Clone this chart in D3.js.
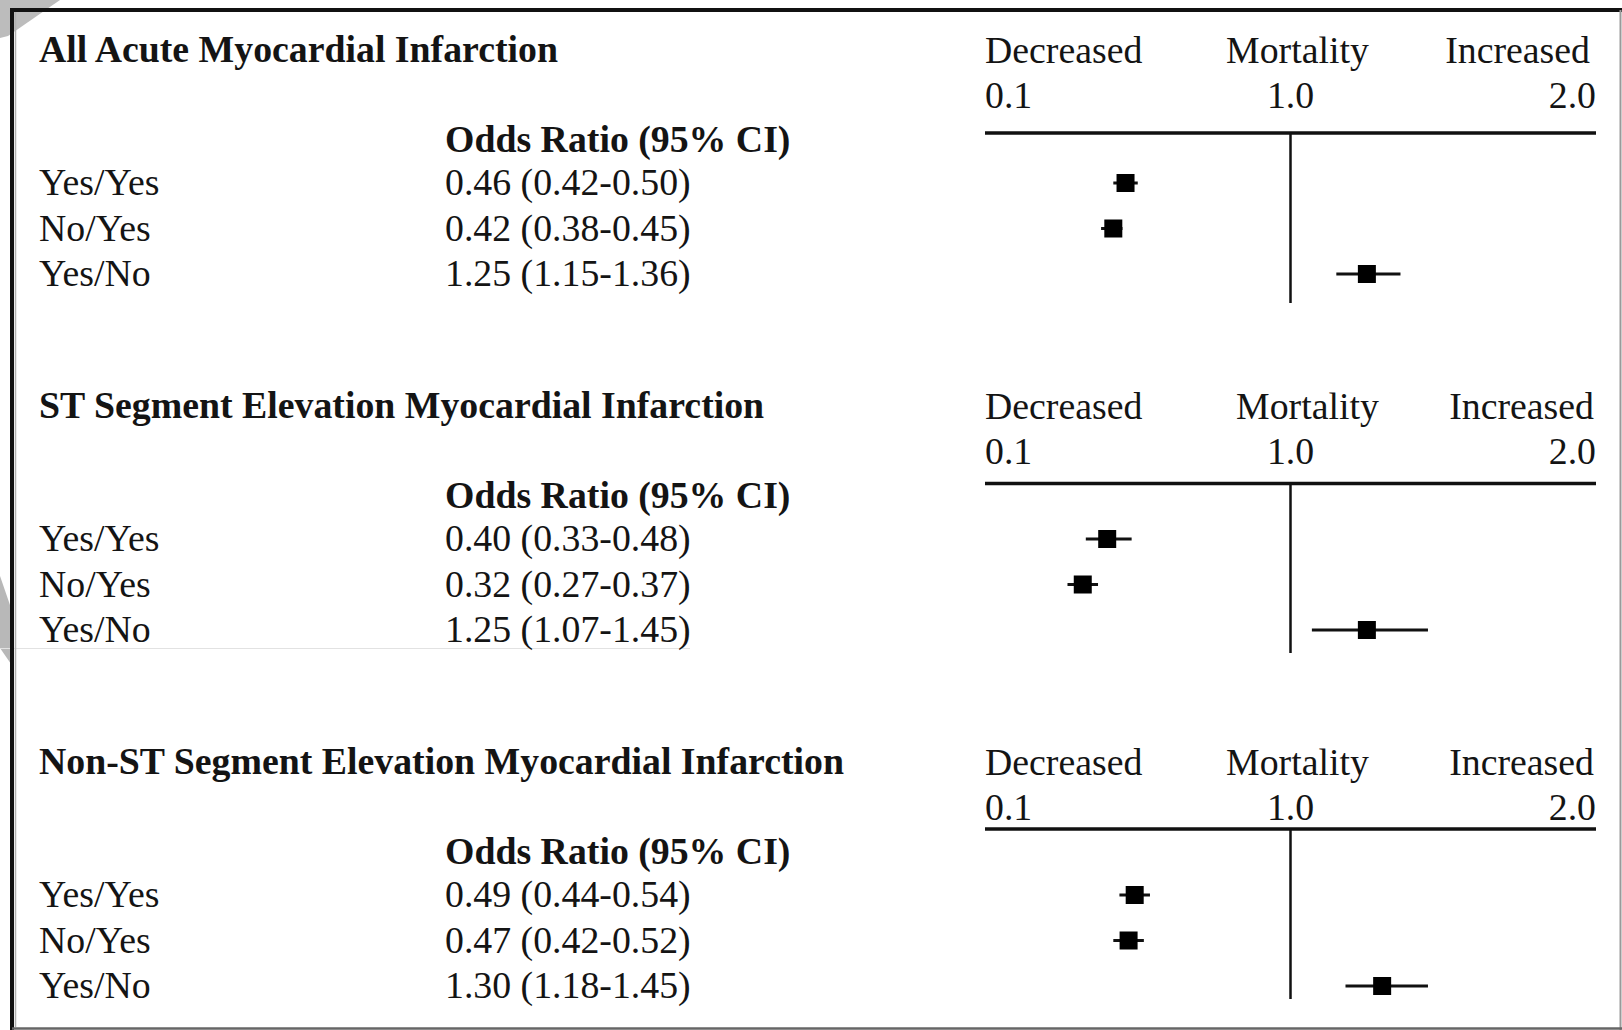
<!DOCTYPE html>
<html>
<head>
<meta charset="utf-8">
<script src="https://cdn.jsdelivr.net/npm/d3@7"></script>
<style>
  html, body { margin: 0; padding: 0; background: #fff; }
  svg { display: block; }
  text { font-family: "Liberation Serif", "Times New Roman", serif; fill: #141414; }
</style>
</head>
<body>
<svg id="chart" width="1622" height="1030"></svg>
<script>
// Panel titles (one forest plot per infarction type)
const panelTitles = [
  "All Acute Myocardial Infarction",
  "ST Segment Elevation Myocardial Infarction",
  "Non-ST Segment Elevation Myocardial Infarction"
];
// Row labels within each panel
const groups = ["Yes/Yes", "No/Yes", "Yes/No"];
// Odds ratios and 95% confidence limits, per panel, per row
const oddsRatio = [
  [0.46, 0.42, 1.25],
  [0.40, 0.32, 1.25],
  [0.49, 0.47, 1.30]
];
const ciLow = [
  [0.42, 0.38, 1.15],
  [0.33, 0.27, 1.07],
  [0.44, 0.42, 1.18]
];
const ciHigh = [
  [0.50, 0.45, 1.36],
  [0.48, 0.37, 1.45],
  [0.54, 0.52, 1.45]
];
// Axis header and tick labels
const headerLabels = ["Decreased", "Mortality", "Increased"];
const tickLabels = ["0.1", "1.0", "2.0"];
const columnHeader = "Odds Ratio (95% CI)";
const refValue = 1.0;

// ---- layout ----
const W = 1622, H = 1030;
const fontSize = 37.8;
const labelX = 39, valueX = 445;
const panelTop0 = 50, panelStep = 356;
const rowOffsets = [133, 178.5, 224];
const axisLineOffsets = [83, 77.5, 67];
const refLineEnds = [253, 247, 237];
const midHeaderShift = [7, 17, 7];
const endHeaderShift = [-6, -2, -2];

const svg = d3.select("#chart");

// scanned-page artefacts along the edges
const art = svg.append("g");
art.append("path").attr("d", "M0,0 L60,0 L8,36 L0,38 Z").attr("fill", "#bcbcbc");
art.append("path").attr("d", "M0,576 L11,608 L11,664 L0,648 Z").attr("fill", "#b8b8b8");
art.append("line").attr("x1", 0).attr("x2", 690).attr("y1", 648.5).attr("y2", 648.5)
  .attr("stroke", "#e2e2e2").attr("stroke-width", 1);

// frame
const frame = svg.append("g");
frame.append("line").attr("x1", 10).attr("x2", W).attr("y1", 10).attr("y2", 10)
  .attr("stroke", "#111").attr("stroke-width", 4);
frame.append("line").attr("x1", 12).attr("x2", 12).attr("y1", 8).attr("y2", H)
  .attr("stroke", "#111").attr("stroke-width", 4);
frame.append("line").attr("x1", 15.5).attr("x2", 15.5).attr("y1", 12).attr("y2", H - 3)
  .attr("stroke", "#b0b0b0").attr("stroke-width", 1.5);
frame.append("line").attr("x1", W - 1.5).attr("x2", W - 1.5).attr("y1", 10).attr("y2", H)
  .attr("stroke", "#9a9a9a").attr("stroke-width", 2);
frame.append("line").attr("x1", 12).attr("x2", W).attr("y1", H - 1.5).attr("y2", H - 1.5)
  .attr("stroke", "#666").attr("stroke-width", 2.5);

// shared odds-ratio scale for the plot column
const x = d3.scaleLinear().domain([0, 2]).range([985, 1596]);
const [x0, x1] = x.range();
const xMid = x(refValue);

panelTitles.forEach((title, p) => {
  const top = panelTop0 + p * panelStep;
  const g = svg.append("g");

  // title
  g.append("text").attr("x", labelX).attr("y", top + 12)
    .attr("font-size", fontSize).attr("font-weight", "bold").text(title);

  // column header
  g.append("text").attr("x", valueX).attr("y", top + 102)
    .attr("font-size", fontSize).attr("font-weight", "bold").text(columnHeader);

  const rows = groups.map((grp, i) => ({
    grp, or: oddsRatio[p][i], lo: ciLow[p][i], hi: ciHigh[p][i], cy: top + rowOffsets[i]
  }));

  // row labels and values
  g.selectAll("text.grp").data(rows).join("text").attr("class", "grp")
    .attr("x", labelX).attr("y", d => d.cy + 12).attr("font-size", fontSize).text(d => d.grp);
  g.selectAll("text.val").data(rows).join("text").attr("class", "val")
    .attr("x", valueX).attr("y", d => d.cy + 12).attr("font-size", fontSize)
    .text(d => `${d.or.toFixed(2)} (${d.lo.toFixed(2)}-${d.hi.toFixed(2)})`);

  // header above the axis
  const anchors = ["start", "middle", "end"];
  const hx = [x0, xMid + midHeaderShift[p], x1 + endHeaderShift[p]];
  headerLabels.forEach((t, k) => {
    g.append("text").attr("x", hx[k]).attr("y", top + 13).attr("font-size", fontSize)
      .attr("text-anchor", anchors[k]).text(t);
  });
  const tx = [x0, xMid, x1];
  tickLabels.forEach((t, k) => {
    g.append("text").attr("x", tx[k]).attr("y", top + 58).attr("font-size", fontSize)
      .attr("text-anchor", anchors[k]).text(t);
  });

  // axis rule and reference line at OR = 1
  const ay = top + axisLineOffsets[p];
  g.append("line").attr("x1", x0).attr("x2", x1).attr("y1", ay).attr("y2", ay)
    .attr("stroke", "#111").attr("stroke-width", 3.5);
  g.append("line").attr("x1", xMid).attr("x2", xMid).attr("y1", ay).attr("y2", top + refLineEnds[p])
    .attr("stroke", "#111").attr("stroke-width", 2.5);

  // confidence intervals and point estimates
  g.selectAll("line.ci").data(rows).join("line").attr("class", "ci")
    .attr("x1", d => x(d.lo)).attr("x2", d => x(d.hi))
    .attr("y1", d => d.cy).attr("y2", d => d.cy)
    .attr("stroke", "#111").attr("stroke-width", 3);
  const s = 18;
  g.selectAll("rect.pt").data(rows).join("rect").attr("class", "pt")
    .attr("x", d => x(d.or) - s / 2).attr("y", d => d.cy - s / 2)
    .attr("width", s).attr("height", s).attr("fill", "#000");
});
</script>
</body>
</html>
